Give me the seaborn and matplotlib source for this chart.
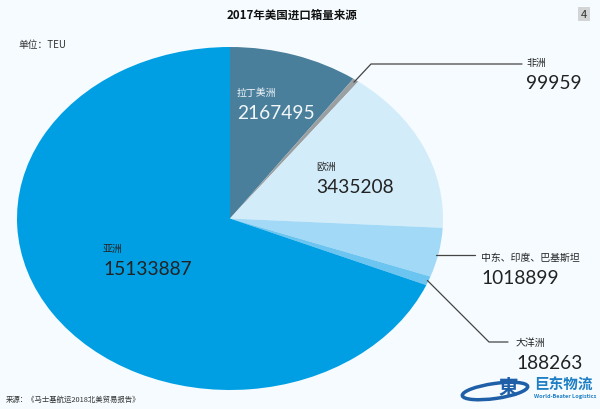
import numpy as np
import matplotlib
matplotlib.use("Agg")
import matplotlib.pyplot as plt
from matplotlib.patches import Ellipse, Rectangle
import seaborn as sns

regions = ["拉丁美洲", "非洲", "欧洲", "中东、印度、巴基斯坦", "大洋洲", "亚洲"]
values = [2167495, 99959, 3435208, 1018899, 188263, 15133887]
colors = ["#4A7F9C", "#9A9FA2", "#D3ECF9", "#A2D9F7", "#6CC5F0", "#009FE3"]

BG = "#F5FBFE"
sns.set_theme(style="white")
plt.rcParams["font.family"] = ["Noto Sans CJK SC", "DejaVu Sans"]

fig = plt.figure(figsize=(6, 4.1), dpi=100, facecolor=BG)
ax = fig.add_axes([17/600, 19/410, 426/600, 343/410])
ax.pie(values, colors=sns.color_palette(colors), startangle=90, counterclock=False, radius=1,
       wedgeprops={"linewidth": 0, "edgecolor": "none"})
ax.set_aspect("auto")
ax.set_xlim(-1, 1)
ax.set_ylim(-1, 1)
ax.set_facecolor("none")

ov = fig.add_axes([0, 0, 1, 1], facecolor="none")
ov.set_xlim(0, 600)
ov.set_ylim(410, 0)
ov.axis("off")

DARK = "#222222"
def lab(x, y, name, num, color=DARK):
    ov.text(x, y, name, fontsize=7.1, color=color, va="center", ha="left")
    ov.text(x, y + 20.5, f"{num}", fontsize=13.8, color=color, va="center", ha="left",
            family=["Lato", "DejaVu Sans"])

pos = [(237, 93), (526, 63), (316, 167), (481, 258), (516, 343), (103, 249)]
text_colors = ["#F2F7FA", DARK, DARK, DARK, DARK, DARK]
for (x, y), n, v, c in zip(pos, regions, values, text_colors):
    lab(x, y, n, v, c)

# leader lines anchored to the wedge mid-angles
cum = np.cumsum(values) - np.array(values) / 2
ang = cum / np.sum(values) * 2 * np.pi
def edge(i, r=1.0):
    return 230 + 213 * r * np.sin(ang[i]), 219.5 - 171.5 * r * np.cos(ang[i])

x0, y0 = edge(1, 0.985)
ov.plot([x0, 371, 522], [y0, 65, 65], color="#444444", lw=0.9)
x0, y0 = edge(3, 0.97)
ov.plot([x0 + 4, 475], [256, 256], color="#444444", lw=0.9)
x0, y0 = edge(4, 0.995)
ov.plot([x0, 489, 508], [y0, 343, 343], color="#444444", lw=0.9)

ov.text(292, 15, "2017年美国进口箱量来源", fontsize=8.3, color="#111111", ha="center", va="center", fontweight="bold")
ov.add_patch(Rectangle((578, 8), 12, 14, color="#D2D4D5", lw=0))
ov.text(584, 15, "4", fontsize=8, color="#333333", ha="center", va="center")
ov.text(18, 45, "单位：TEU", fontsize=7, color="#333333", ha="left", va="center")
ov.text(6, 400, "来源：《马士基航运2018北美贸易报告》", fontsize=5.3, color="#333333", ha="left", va="center")

# logo
ov.add_patch(Ellipse((495, 392), 66, 15, angle=-8, fc="none", ec="#1F5FA8", lw=2.5))
ov.text(508, 389, "東", fontsize=14, color="#1F5FA8", ha="center", va="center", fontweight="bold")
ov.text(563, 385, "巨东物流", fontsize=10.5, color="#1F7FC4", ha="center", va="center", fontweight="bold")
ov.text(565, 397, "World-Beater Logistics", fontsize=4, color="#1F7FC4", ha="center", va="center", fontweight="bold")

fig.savefig("out.png", dpi=100, facecolor=BG)
